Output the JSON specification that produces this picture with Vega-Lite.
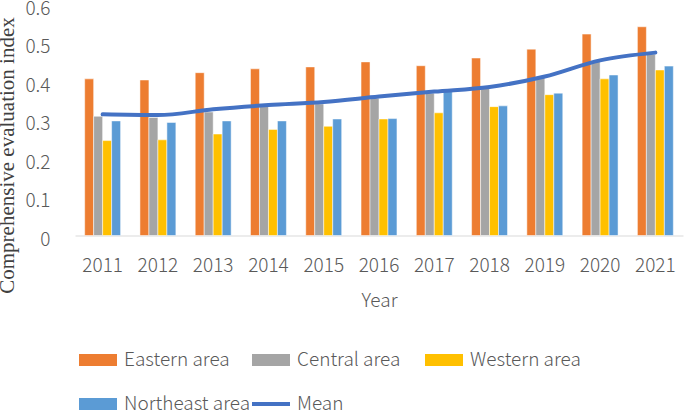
{
  "$schema": "https://vega.github.io/schema/vega-lite/v6.json",
  "width": 608,
  "height": 231.5,
  "autosize": {"type": "none"},
  "padding": {"left": 75, "top": 4, "right": 2, "bottom": 175},
  "config": {"view": {"stroke": null}, "font": "Noto Sans CJK JP", "legend": {"padding": 0}},
  "datasets": {
    "bars": [
      {"year": 2011, "series": "Eastern area", "value": 0.406},
      {"year": 2011, "series": "Central area", "value": 0.309},
      {"year": 2011, "series": "Western area", "value": 0.246},
      {"year": 2011, "series": "Northeast area", "value": 0.297},
      {"year": 2012, "series": "Eastern area", "value": 0.403},
      {"year": 2012, "series": "Central area", "value": 0.306},
      {"year": 2012, "series": "Western area", "value": 0.248},
      {"year": 2012, "series": "Northeast area", "value": 0.293},
      {"year": 2013, "series": "Eastern area", "value": 0.422},
      {"year": 2013, "series": "Central area", "value": 0.320},
      {"year": 2013, "series": "Western area", "value": 0.263},
      {"year": 2013, "series": "Northeast area", "value": 0.297},
      {"year": 2014, "series": "Eastern area", "value": 0.432},
      {"year": 2014, "series": "Central area", "value": 0.336},
      {"year": 2014, "series": "Western area", "value": 0.275},
      {"year": 2014, "series": "Northeast area", "value": 0.297},
      {"year": 2015, "series": "Eastern area", "value": 0.437},
      {"year": 2015, "series": "Central area", "value": 0.341},
      {"year": 2015, "series": "Western area", "value": 0.283},
      {"year": 2015, "series": "Northeast area", "value": 0.302},
      {"year": 2016, "series": "Eastern area", "value": 0.450},
      {"year": 2016, "series": "Central area", "value": 0.356},
      {"year": 2016, "series": "Western area", "value": 0.302},
      {"year": 2016, "series": "Northeast area", "value": 0.303},
      {"year": 2017, "series": "Eastern area", "value": 0.440},
      {"year": 2017, "series": "Central area", "value": 0.369},
      {"year": 2017, "series": "Western area", "value": 0.318},
      {"year": 2017, "series": "Northeast area", "value": 0.373},
      {"year": 2018, "series": "Eastern area", "value": 0.460},
      {"year": 2018, "series": "Central area", "value": 0.382},
      {"year": 2018, "series": "Western area", "value": 0.334},
      {"year": 2018, "series": "Northeast area", "value": 0.336},
      {"year": 2019, "series": "Eastern area", "value": 0.483},
      {"year": 2019, "series": "Central area", "value": 0.411},
      {"year": 2019, "series": "Western area", "value": 0.365},
      {"year": 2019, "series": "Northeast area", "value": 0.369},
      {"year": 2020, "series": "Eastern area", "value": 0.522},
      {"year": 2020, "series": "Central area", "value": 0.452},
      {"year": 2020, "series": "Western area", "value": 0.406},
      {"year": 2020, "series": "Northeast area", "value": 0.416},
      {"year": 2021, "series": "Eastern area", "value": 0.541},
      {"year": 2021, "series": "Central area", "value": 0.470},
      {"year": 2021, "series": "Western area", "value": 0.429},
      {"year": 2021, "series": "Northeast area", "value": 0.439}
    ],
    "mean": [
      {"year": 2011, "series": "Mean", "value": 0.314},
      {"year": 2012, "series": "Mean", "value": 0.312},
      {"year": 2013, "series": "Mean", "value": 0.327},
      {"year": 2014, "series": "Mean", "value": 0.338},
      {"year": 2015, "series": "Mean", "value": 0.346},
      {"year": 2016, "series": "Mean", "value": 0.360},
      {"year": 2017, "series": "Mean", "value": 0.373},
      {"year": 2018, "series": "Mean", "value": 0.385},
      {"year": 2019, "series": "Mean", "value": 0.412},
      {"year": 2020, "series": "Mean", "value": 0.454},
      {"year": 2021, "series": "Mean", "value": 0.474}
    ]
  },
  "encoding": {
    "x": {
      "field": "year",
      "type": "ordinal",
      "scale": {"paddingInner": 0.35, "paddingOuter": 0.175},
      "axis": {
        "title": "Year",
        "labelAngle": 0,
        "labelFontSize": 19,
        "labelFontWeight": 300,
        "labelColor": "#595959",
        "labelPadding": 21,
        "titleFontSize": 19,
        "titleFontWeight": 300,
        "titleColor": "#595959",
        "titlePadding": 16,
        "ticks": false,
        "grid": false,
        "domainColor": "#D9D9D9",
        "domainWidth": 1
      }
    },
    "y": {
      "field": "value",
      "type": "quantitative",
      "scale": {"domain": [0, 0.6], "nice": false},
      "axis": {
        "title": "Comprehensive evaluation index",
        "titleFont": "Liberation Serif",
        "titleFontSize": 21,
        "titleFontWeight": "normal",
        "titleColor": "#404040",
        "titleAngle": -90,
        "titleBaseline": "middle",
        "titleAlign": "center",
        "titleX": -68,
        "titleY": 151,
        "values": [0, 0.1, 0.2, 0.3, 0.4, 0.5, 0.6],
        "labelExpr": "datum.value === 0 ? '0' : format(datum.value, '.1f')",
        "labelFontSize": 19,
        "labelFontWeight": 300,
        "labelColor": "#595959",
        "labelPadding": 25,
        "labelOffset": 4,
        "ticks": false,
        "domain": false,
        "grid": false
      }
    },
    "color": {
      "field": "series",
      "type": "nominal",
      "scale": {
        "domain": ["Eastern area", "Central area", "Western area", "Northeast area", "Mean"],
        "range": ["#ED7D31", "#A5A5A5", "#FFC000", "#5B9BD5", "#4472C4"]
      },
      "legend": {
        "title": null,
        "orient": "none",
        "direction": "horizontal",
        "legendX": 4,
        "legendY": 337,
        "columns": 3,
        "gridAlign": "all",
        "columnPadding": 1,
        "rowPadding": 15,
        "symbolSize": 1444,
        "symbolStrokeWidth": 0,
        "labelFontSize": 19,
        "labelFontWeight": 300,
        "labelColor": "#595959",
        "labelOffset": 7,
        "encode": {
          "symbols": {
            "update": {
              "shape": {"signal": "datum.value === 'Mean' ? 'M-1,-0.105h2v0.21h-2z' : 'M-1,-0.315h2v0.63h-2z'"},
              "fill": {"signal": "scale('color', datum.value)"},
              "strokeWidth": {"value": 0},
              "size": {"value": 1444},
              "opacity": {"value": 1}
            }
          }
        }
      }
    }
  },
  "layer": [
    {
      "data": {"name": "bars"},
      "mark": {"type": "bar", "stroke": "white", "strokeWidth": 0.5},
      "encoding": {
        "xOffset": {
          "field": "series",
          "type": "nominal",
          "sort": ["Eastern area", "Central area", "Western area", "Northeast area"]
        }
      }
    },
    {
      "data": {"name": "mean"},
      "mark": {"type": "line", "strokeWidth": 4, "interpolate": "monotone", "strokeCap": "round"},
      "encoding": {}
    }
  ]
}
